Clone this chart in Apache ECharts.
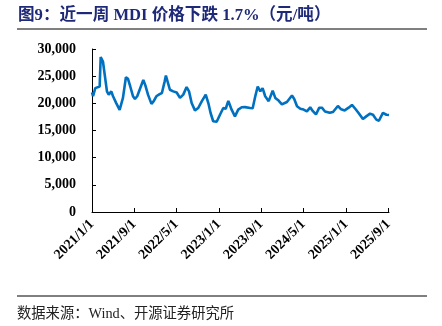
<!DOCTYPE html>
<html>
<head>
<meta charset="utf-8">
<script src="https://cdn.jsdelivr.net/npm/echarts@6/dist/echarts.min.js"></script>
<style>html,body{margin:0;padding:0;background:#fff;}#c{width:442px;height:326px;}</style>
</head>
<body>
<div id="c"></div>
<script>
const titleText = '图9：近一周 MDI 价格下跌 1.7%（元/吨）';
const sourceText = '数据来源：Wind、开源证券研究所';
const tickDates = ['2021-01-01','2021-09-01','2022-05-01','2023-01-01','2023-09-01','2024-05-01','2025-01-01','2025-09-01'];
const dates = [
'2021-01-01','2021-01-07','2021-01-20','2021-02-14','2021-02-20','2021-03-05','2021-03-15','2021-03-28',
'2021-04-07','2021-04-22','2021-05-02','2021-05-21','2021-06-09','2021-06-17','2021-06-28','2021-07-15',
'2021-07-27','2021-08-09','2021-08-25','2021-09-05','2021-09-18','2021-10-02','2021-10-23','2021-11-03',
'2021-11-19','2021-12-09','2021-12-22','2022-01-06','2022-01-25','2022-02-07','2022-02-23','2022-03-02',
'2022-03-25','2022-04-13','2022-05-03','2022-05-22','2022-06-10','2022-06-29','2022-07-13','2022-07-28',
'2022-08-16','2022-09-04','2022-09-24','2022-10-17','2022-11-01','2022-11-14','2022-11-29','2022-12-19',
'2023-01-07','2023-01-26','2023-02-09','2023-02-24','2023-03-15','2023-04-03','2023-04-22','2023-05-12',
'2023-05-31','2023-06-11','2023-06-30','2023-07-14','2023-07-29','2023-08-12','2023-08-27','2023-09-09',
'2023-09-24','2023-10-14','2023-11-06','2023-11-21','2023-12-10','2023-12-29','2024-01-27','2024-02-25',
'2024-03-09','2024-03-25','2024-04-13','2024-05-02','2024-05-21','2024-06-09','2024-06-23','2024-07-12',
'2024-07-31','2024-08-15','2024-09-02','2024-09-29','2024-10-18','2024-11-15','2024-12-04','2024-12-24',
'2025-01-16','2025-02-04','2025-02-23','2025-03-14','2025-04-08','2025-04-27','2025-05-19','2025-06-05',
'2025-06-24','2025-07-09','2025-08-01','2025-08-21','2025-09-05'
];
const prices = [
22000,21300,22800,23100,28500,27700,25300,22200,
21600,22200,21300,20000,18800,18700,21000,24800,
24500,23100,21300,20800,21300,22500,24300,23400,
21600,19900,20400,21300,21700,21900,24050,25100,
22500,22200,22000,21000,21600,23000,22200,20050,
18700,19140,20370,21600,20050,18220,16700,16600,
17900,19140,19000,20450,18830,17600,18830,19270,
19300,19400,19140,19100,21300,23100,22200,22800,
21300,20400,22330,21000,20500,19800,20250,21450,
20800,19450,19000,18850,18530,19270,18600,17950,
19200,19200,18500,18250,18400,19500,18900,18700,
19200,19700,19000,18220,17100,17600,18100,17900,
17000,16800,18250,17900,17850
];

function toTs(s){const p=s.split('-').map(Number);return new Date(p[0],p[1]-1,p[2]).getTime();}
const seriesData = dates.map((d,i)=>[toTs(d),prices[i]]);
const tickTs = tickDates.map(toTs);

const chart = echarts.init(document.getElementById('c'), null, {renderer:'canvas'});
const axisFont = {fontFamily:'"Liberation Serif","Times New Roman",serif',fontWeight:'bold',fontSize:14,color:'#000'};
chart.setOption({
  animation:false,
  backgroundColor:'#fff',
  grid:{left:92,right:53,top:49,bottom:114,containLabel:false},
  xAxis:{
    type:'value',
    min:toTs('2021-01-01'),
    max:toTs('2025-09-05'),
    scale:true,
    splitLine:{show:false},
    axisLine:{show:true,lineStyle:{color:'#000',width:1}},
    axisTick:{show:true,inside:true,length:4,lineStyle:{color:'#000'},customValues:tickTs},
    axisLabel:Object.assign({rotate:45,margin:10,customValues:tickTs,hideOverlap:false,showMinLabel:true,showMaxLabel:true,
      formatter:function(v){const d=new Date(v);return d.getFullYear()+'/'+(d.getMonth()+1)+'/'+d.getDate();}},axisFont)
  },
  yAxis:{
    type:'value',min:0,max:30000,interval:5000,
    splitLine:{show:false},
    axisLine:{show:true,lineStyle:{color:'#000',width:1}},
    axisTick:{show:true,inside:true,length:4,lineStyle:{color:'#000'}},
    axisLabel:Object.assign({margin:16,formatter:function(v){return v.toLocaleString('en-US');}},axisFont)
  },
  series:[{
    type:'line',data:seriesData,showSymbol:false,symbol:'none',
    lineStyle:{color:'#0070C0',width:2.6},
    z:3
  }],
  graphic:[
    {type:'text',left:18,top:7,style:{text:titleText,fill:'#1E2A78',font:'bold 16.6px "Liberation Serif","Noto Sans CJK SC",serif'}},
    {type:'line',shape:{x1:17,y1:29,x2:427,y2:29},style:{stroke:'#000',lineWidth:1}},
    {type:'line',shape:{x1:17,y1:296,x2:427,y2:296},style:{stroke:'#000',lineWidth:1}},
    {type:'text',left:17,top:307,style:{text:sourceText,fill:'#222',font:'14.3px "Liberation Serif","Noto Sans CJK SC",serif'}}
  ]
});
</script>
</body>
</html>
